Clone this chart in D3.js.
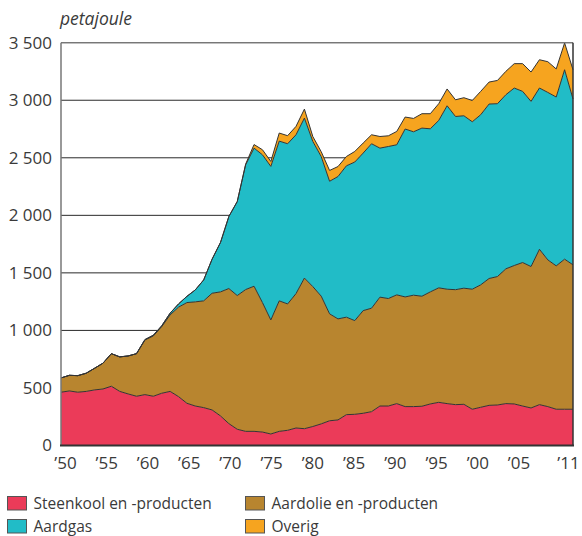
<!DOCTYPE html>
<html>
<head>
<meta charset="utf-8">
<script src="https://cdn.jsdelivr.net/npm/d3@7/dist/d3.min.js"></script>
<style>
  html, body { margin: 0; padding: 0; background: #fff; }
  svg { display: block; font-family: "Open Sans", "Noto Sans", sans-serif; }
</style>
</head>
<body>
<svg id="chart" width="582" height="536"></svg>
<script>
// Energy consumption in the Netherlands by source, petajoule
const years = d3.range(1950, 2012);

const steenkool = [463, 474, 463, 470, 483, 491, 515, 470, 448, 428,
                   442, 428, 454, 470, 425, 367, 343, 329, 309, 257,
                   190, 141, 123, 123, 117, 100, 123, 132, 152, 146,
                   165, 188, 215, 222, 268, 271, 280, 294, 343, 343,
                   364, 338, 338, 341, 361, 375, 364, 355, 358, 315,
                   332, 349, 352, 364, 361, 343, 326, 355, 338, 315,
                   315, 315];

const aardolie = [124, 136, 144, 158, 188, 224, 283, 300, 330, 370,
                  475, 524, 579, 665, 777, 875, 905, 928, 1014, 1078,
                  1174, 1162, 1232, 1261, 1125, 991, 1134, 1098, 1168, 1309,
                  1216, 1110, 929, 878, 847, 814, 892, 899, 946, 934,
                  945, 953, 968, 956, 974, 995, 994, 999, 1009, 1043,
                  1064, 1102, 1116, 1171, 1203, 1247, 1229, 1350, 1275, 1246,
                  1304, 1255];

const aardgas = [0, 0, 0, 0, 0, 0, 0, 0, 0, 0,
                 3, 6, 7, 15, 28, 54, 104, 182, 296, 429,
                 626, 817, 1084, 1200, 1284, 1334, 1388, 1392, 1380, 1390,
                 1261, 1213, 1152, 1237, 1315, 1378, 1369, 1429, 1295, 1321,
                 1304, 1459, 1420, 1461, 1417, 1454, 1594, 1505, 1498, 1455,
                 1478, 1516, 1502, 1513, 1542, 1487, 1435, 1401, 1455, 1467,
                 1646, 1441];

const overig = [0, 0, 0, 0, 0, 0, 0, 0, 0, 0,
                0, 0, 0, 0, 0, 0, 0, 0, 0, 0,
                0, 0, 6, 31, 44, 43, 70, 70, 73, 78,
                43, 42, 94, 87, 81, 92, 87, 78, 101, 93,
                116, 104, 116, 125, 131, 146, 146, 145, 157, 185,
                203, 191, 202, 203, 212, 241, 255, 246, 267, 244,
                233, 254];

const seriesNames = ["Steenkool en -producten", "Aardolie en -producten", "Aardgas", "Overig"];
const seriesColors = ["#eb3b59", "#b8852f", "#21bcc7", "#f6a41f"];
const yTicks = [0, 500, 1000, 1500, 2000, 2500, 3000, 3500];
const xTicks = [1950, 1955, 1960, 1965, 1970, 1975, 1980, 1985, 1990, 1995, 2000, 2005, 2011];

const rows = years.map((yr, i) => ({
  year: yr,
  [seriesNames[0]]: steenkool[i],
  [seriesNames[1]]: aardolie[i],
  [seriesNames[2]]: aardgas[i],
  [seriesNames[3]]: overig[i]
}));

const svg = d3.select("#chart");
const plotLeft = 61, plotRight = 573, plotTop = 42.7, plotBottom = 445.5;

const x = d3.scaleLinear().domain([1950, 2011]).range([plotLeft, plotRight]);
const y = d3.scaleLinear().domain([0, 3500]).range([plotBottom, plotTop]);
// year labels sit slightly inside the plot ends so the first and last stay clear of the edges
const xLabel = d3.scaleLinear().domain([1950, 2011]).range([plotLeft + 4, plotRight - 5]);

const textColor = "#3a3a3a";

// unit label
svg.append("text")
  .attr("x", 60).attr("y", 25)
  .attr("font-size", 17.5).attr("font-style", "italic")
  .attr("fill", textColor)
  .text("petajoule");

// horizontal gridlines
svg.append("g").selectAll("line")
  .data(yTicks.filter(d => d > 0))
  .join("line")
  .attr("x1", plotLeft).attr("x2", plotRight)
  .attr("y1", d => y(d)).attr("y2", d => y(d))
  .attr("stroke", "#2a2a2a").attr("stroke-width", 1);

// stacked areas
const stack = d3.stack().keys(seriesNames);
const layers = stack(rows);

const area = d3.area()
  .x(d => x(d.data.year))
  .y0(d => y(d[0]))
  .y1(d => y(d[1]));

const topLine = d3.line()
  .x(d => x(d.data.year))
  .y(d => y(d[1]));

svg.append("g").selectAll("path")
  .data(layers)
  .join("path")
  .attr("d", area)
  .attr("fill", (d, i) => seriesColors[i]);

svg.append("g").selectAll("path")
  .data(layers)
  .join("path")
  .attr("d", topLine)
  .attr("fill", "none")
  .attr("stroke", "#333")
  .attr("stroke-width", 1)
  .attr("stroke-linejoin", "round");

// plot frame
svg.append("line").attr("x1", plotLeft).attr("x2", plotRight).attr("y1", plotTop).attr("y2", plotTop)
  .attr("stroke", "#777").attr("stroke-width", 1.2);
svg.append("line").attr("x1", plotLeft).attr("x2", plotLeft).attr("y1", plotTop).attr("y2", plotBottom)
  .attr("stroke", "#777").attr("stroke-width", 1.5);
svg.append("line").attr("x1", plotRight).attr("x2", plotRight).attr("y1", plotTop).attr("y2", plotBottom)
  .attr("stroke", "#333").attr("stroke-width", 1.5);
svg.append("line").attr("x1", plotLeft - 1).attr("x2", plotRight + 1).attr("y1", plotBottom).attr("y2", plotBottom)
  .attr("stroke", "#333").attr("stroke-width", 2);

// y axis labels
const fmt = d3.formatLocale({ decimal: ",", thousands: " ", grouping: [3], currency: ["", ""] }).format(",d");
const yAxis = d3.axisLeft(y).tickValues(yTicks).tickSize(0).tickPadding(9).tickFormat(fmt);
const gy = svg.append("g").attr("transform", `translate(${plotLeft},0)`).call(yAxis);
gy.select(".domain").remove();
gy.selectAll("text").attr("font-size", 17).attr("fill", textColor)
  .attr("font-family", "'Open Sans', sans-serif");

// x axis labels
const xAxis = d3.axisBottom(xLabel).tickValues(xTicks).tickSize(0).tickPadding(11)
  .tickFormat(d => "\u2019" + String(d).slice(2));
const gx = svg.append("g").attr("transform", `translate(0,${plotBottom})`).call(xAxis);
gx.select(".domain").remove();
gx.selectAll("text").attr("font-size", 17).attr("fill", textColor)
  .attr("font-family", "'Open Sans', sans-serif");

// legend
const legendPos = [[7, 496], [245, 496], [7, 519], [245, 519]];
const legendOrder = [0, 1, 2, 3];
const lg = svg.append("g").selectAll("g")
  .data(legendOrder)
  .join("g")
  .attr("transform", (d, i) => `translate(${legendPos[i][0]},${legendPos[i][1]})`);
lg.append("rect")
  .attr("x", 0.5).attr("y", 0.5).attr("width", 19).attr("height", 13.5)
  .attr("fill", d => seriesColors[d])
  .attr("stroke", "#555").attr("stroke-width", 1);
lg.append("text")
  .attr("x", 26.5).attr("y", 13)
  .attr("font-size", 15.5).attr("fill", textColor)
  .text(d => seriesNames[d]);
</script>
</body>
</html>
